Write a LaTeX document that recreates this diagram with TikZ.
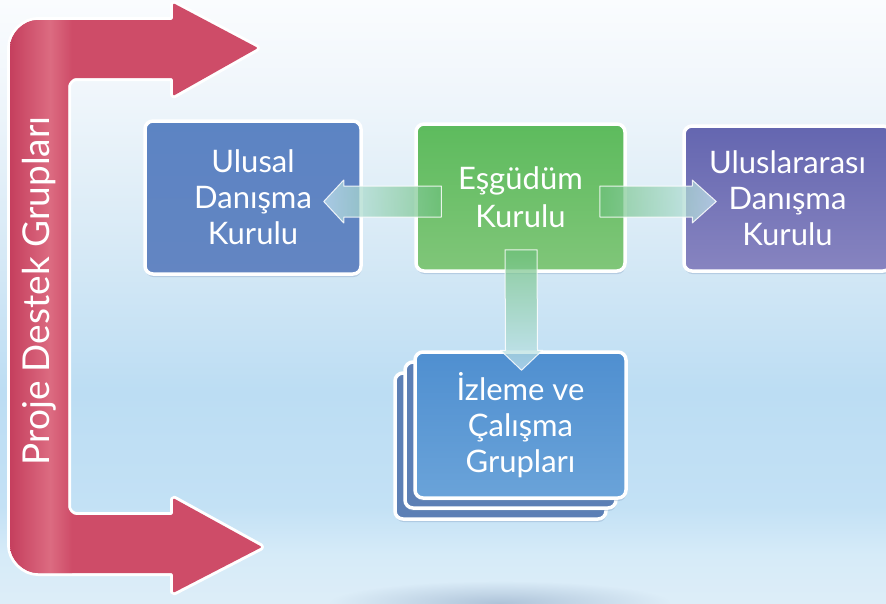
\documentclass[tikz,border=0pt]{standalone}
\usepackage{fontspec}
\setmainfont{Lato}
\usetikzlibrary{calc,shadows,fadings}
\definecolor{bg0}{HTML}{DDEDF8}
\definecolor{bg1}{HTML}{D6EBF8}
\definecolor{bg2}{HTML}{C3E1F5}
\definecolor{bg3}{HTML}{BCDDF3}
\definecolor{bg4}{HTML}{D8EAF6}
\definecolor{bg5}{HTML}{F0F6FB}
\definecolor{bg6}{HTML}{FAFCFE}
\definecolor{redbase}{HTML}{CE4C68}
\definecolor{redD}{HTML}{C43D5C}
\definecolor{redL}{HTML}{DC6B81}
\definecolor{shadc}{HTML}{7F9CBF}
\definecolor{blueT}{HTML}{5C84C3}
\definecolor{blueM}{HTML}{7D9ED2}
\definecolor{blueB}{HTML}{6385C2}
\definecolor{greenT}{HTML}{5DBB5D}
\definecolor{greenM}{HTML}{8FCC87}
\definecolor{greenB}{HTML}{80C679}
\definecolor{purT}{HTML}{6466B0}
\definecolor{purM}{HTML}{8E8BC5}
\definecolor{purB}{HTML}{8784C0}
\definecolor{skyT}{HTML}{4F8FD0}
\definecolor{skyM}{HTML}{7BB6E3}
\definecolor{skyB}{HTML}{6AA3D9}
\definecolor{backblue}{HTML}{5C7FB5}
\definecolor{arrBase}{HTML}{6DC07B}
\definecolor{arrTip}{HTML}{C7E6F3}
\definecolor{floorsh}{HTML}{A9BFD6}
\pgfdeclareverticalshading{bgsh}{100bp}{color(0bp)=(bg0); color(25bp)=(bg0); color(29bp)=(bg1); color(33bp)=(bg2); color(42.5bp)=(bg3); color(55bp)=(bg4); color(67.5bp)=(bg5); color(75bp)=(bg6); color(100bp)=(bg6)}
\tikzfading[name=softspot, inner color=transparent!0, outer color=transparent!100]
\begin{document}
\begin{tikzpicture}[x=1pt,y=-1pt,
  box/.style={draw=white, line width=3.5pt, rounded corners=8pt, inner sep=0pt,
    align=center, text=white, font=\fontsize{31}{36}\selectfont,
    drop shadow={shadow xshift=0.5pt, shadow yshift=-3pt, opacity=.35, fill=shadc}},
  bluebox/.style={top color=blueT, middle color=blueM, bottom color=blueB},
  greenbox/.style={top color=greenT, middle color=greenM, bottom color=greenB},
  purbox/.style={top color=purT, middle color=purM, bottom color=purB},
  skybox/.style={top color=skyT, middle color=skyM, bottom color=skyB},
  backbox/.style={fill=backblue},
  barrow/.style={draw=white, draw opacity=.85, line width=1pt, fill opacity=.7, line join=round}
]
\useasboundingbox (0,0) rectangle (886,603);
\shade[shading=bgsh] (0,0) rectangle (886,603);
\fill[floorsh, path fading=softspot, opacity=.9] (500,603) ellipse [x radius=170, y radius=22];

% red bracket arrow
\path[save path=\redp, rounded corners=2pt] (100,20) -- (173,20) -- (173,3) -- (258,48) -- (173,96) -- (173,78) -- (78,78)
  arc[start angle=270, end angle=180, radius=10] -- (68,505)
  arc[start angle=180, end angle=90, radius=10] -- (173,515) -- (173,498) -- (262,547) -- (173,593) -- (173,573) -- (40,573)
  arc[start angle=90, end angle=180, radius=30] -- (10,50)
  arc[start angle=180, end angle=270, radius=30] -- cycle;
\draw[white, line width=6pt, line join=round, use path=\redp];
\begin{scope}
  \clip[use path=\redp];
  \fill[redbase] (0,0) rectangle (270,603);
  \shade[left color=redD, right color=redL] (8,0) rectangle (50,603);
  \shade[left color=redL, right color=redbase] (50,0) rectangle (72,603);
\end{scope}
\node[rotate=90, text=white, font=\fontsize{37}{40}\selectfont] (pd) at (39,291) {Proje Destek Grupları};

% boxes
\node[box, bluebox, minimum width=216pt, minimum height=153pt] (ul) at (253,197.5) {Ulusal\\Danışma\\Kurulu};
\node[box, greenbox, minimum width=209pt, minimum height=147pt, font=\fontsize{31}{38}\selectfont] (eg) at (520.5,197.5) {Eşgüdüm\\Kurulu};
\node[box, purbox, minimum width=207pt, minimum height=145pt] (pu) at (787.5,198.5) {Uluslararası\\Danışma\\Kurulu};
\node[box, backbox, minimum width=211pt, minimum height=146pt] (b3) at (500.5,446) {};
\node[box, backbox, minimum width=211pt, minimum height=146pt] (b2) at (510.5,435) {};
\node[box, skybox, minimum width=211pt, minimum height=146pt] (iz) at (520.5,425) {İzleme ve\\Çalışma\\Grupları};

% block arrows
\coordinate (a1s) at ($(eg.west)+(27,4)$);
\coordinate (a1t) at ($(ul.east)+(-39,4)$);
\path[barrow, left color=arrTip, right color=arrBase]
  ($(a1s)+(0,-15.5)$) -- ($(a1t)+(20,-15.5)$) -- ($(a1t)+(20,-21.5)$) -- (a1t)
  -- ($(a1t)+(20,21.5)$) -- ($(a1t)+(20,15.5)$) -- ($(a1s)+(0,15.5)$) -- cycle;
\coordinate (a2s) at ($(eg.east)+(-27,4)$);
\coordinate (a2t) at ($(pu.west)+(34,3)$);
\path[barrow, left color=arrBase, right color=arrTip]
  ($(a2s)+(0,-15.5)$) -- ($(a2t)+(-24,-15.5)$) -- ($(a2t)+(-24,-21.5)$) -- (a2t)
  -- ($(a2t)+(-24,21.5)$) -- ($(a2t)+(-24,15.5)$) -- ($(a2s)+(0,15.5)$) -- cycle;
\coordinate (a3s) at ($(eg.south)+(0.5,-23)$);
\coordinate (a3t) at ($(iz.north)+(1,20)$);
\path[barrow, top color=arrBase, bottom color=arrTip]
  ($(a3s)+(-16,0)$) -- ($(a3t)+(-16,-20)$) -- ($(a3t)+(-21,-20)$) -- (a3t)
  -- ($(a3t)+(21,-20)$) -- ($(a3t)+(16,-20)$) -- ($(a3s)+(16,0)$) -- cycle;
\end{tikzpicture}
\end{document}
